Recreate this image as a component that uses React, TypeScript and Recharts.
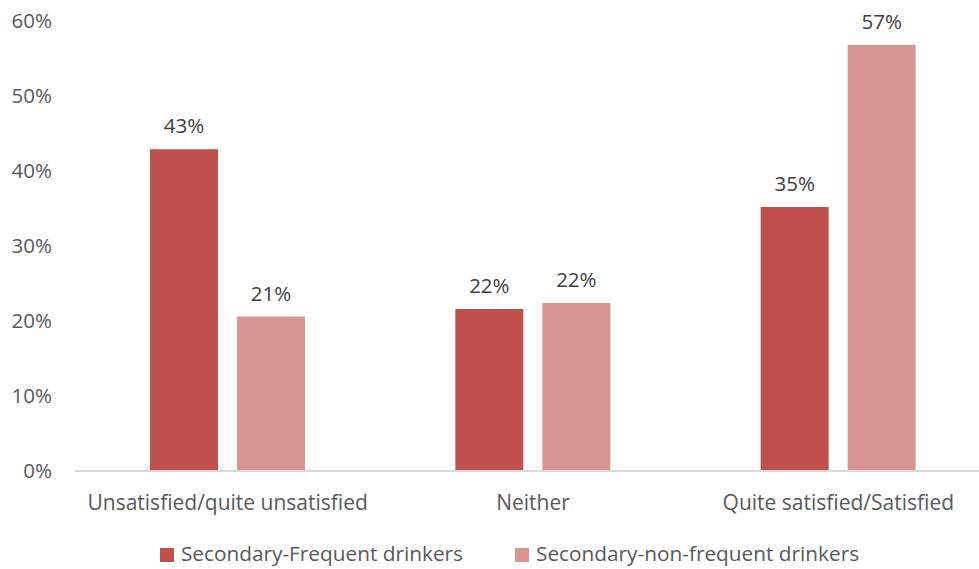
import React from 'react';
import { BarChart, Bar, XAxis, YAxis, Legend, LabelList } from 'recharts';

const categories = ['Unsatisfied/quite unsatisfied', 'Neither', 'Quite satisfied/Satisfied'];
const frequent = [0.429, 0.216, 0.352];
const nonFrequent = [0.206, 0.224, 0.568];
const yTicks = [0, 0.1, 0.2, 0.3, 0.4, 0.5, 0.6];

const data = categories.map((name, i) => ({
  name,
  frequent: frequent[i],
  nonFrequent: nonFrequent[i],
}));

const FONT = '"Open Sans", sans-serif';
const pct = (v: any) => `${Math.round(Number(v) * 100)}%`;

const App = () => {
  return (
    <div style={{ position: 'fixed', left: 0, top: 0, width: 979, height: 569, overflow: 'hidden', background: '#fff' }}>
      <BarChart
        width={995}
        height={569}
        data={data}
        margin={{ top: 21, right: 4, left: 0, bottom: 0 }}
        barSize={68}
        barGap={19}
        style={{ fontFamily: FONT }}
      >
        <XAxis
          dataKey="name"
          tickLine={false}
          axisLine={{ stroke: '#d9d9d9', strokeWidth: 2 }}
          tick={{ fill: '#595959', fontSize: 21 }}
          tickMargin={18}
          height={68}
        />
        <YAxis
          width={75}
          domain={[0, 0.6]}
          ticks={yTicks}
          tickFormatter={pct}
          axisLine={false}
          tickLine={false}
          tickMargin={17}
          tick={{ fill: '#595959', fontSize: 20.5 }}
        />
        <Legend
          verticalAlign="bottom"
          iconType="square"
          iconSize={14}
          height={30}
          wrapperStyle={{ fontSize: 20.8, color: '#595959', left: 46, width: 979 }}
          formatter={(value: string) => <span style={{ color: '#595959', marginLeft: 3, marginRight: 42 }}>{value}</span>}
        />
        <Bar dataKey="frequent" name="Secondary-Frequent drinkers" fill="#C0504D" isAnimationActive={false}>
          <LabelList dataKey="frequent" position="top" offset={16} formatter={pct} fill="#404040" fontSize={20.5} />
        </Bar>
        <Bar dataKey="nonFrequent" name="Secondary-non-frequent drinkers" fill="#D99594" isAnimationActive={false}>
          <LabelList dataKey="nonFrequent" position="top" offset={16} formatter={pct} fill="#404040" fontSize={20.5} />
        </Bar>
      </BarChart>
    </div>
  );
};

export default App;
